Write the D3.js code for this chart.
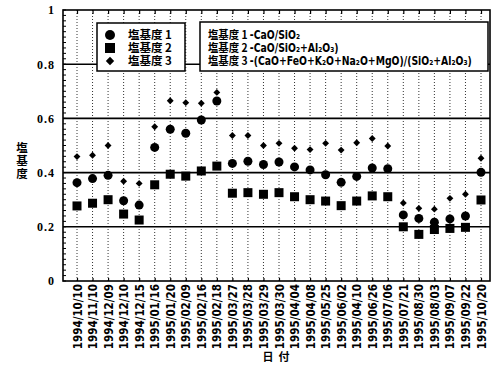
<!DOCTYPE html>
<html><head><meta charset="utf-8">
<script src="https://cdn.jsdelivr.net/npm/d3@7"></script>
<style>
html,body{margin:0;padding:0;background:#fff;}
svg{display:block;}
</style></head>
<body>
<svg id="chart" width="497" height="365"></svg>
<script>
const dates = ["1994/10/10","1994/11/10","1994/12/09","1994/12/10","1994/12/15","1995/01/16","1995/01/20","1995/02/09","1995/02/16","1995/02/18","1995/03/27","1995/03/28","1995/03/29","1995/03/30","1995/04/04","1995/04/08","1995/05/25","1995/06/02","1995/04/10","1995/06/26","1995/07/06","1995/07/21","1995/08/30","1995/08/03","1995/09/07","1995/09/22","1995/10/20"];
const basicity1 = [0.363,0.378,0.39,0.296,0.28,0.493,0.56,0.545,0.594,0.664,0.434,0.442,0.43,0.439,0.421,0.41,0.392,0.364,0.386,0.417,0.414,0.244,0.231,0.217,0.229,0.24,0.401];
const basicity2 = [0.277,0.287,0.30,0.247,0.225,0.355,0.394,0.387,0.406,0.424,0.324,0.326,0.32,0.326,0.311,0.30,0.295,0.278,0.295,0.314,0.311,0.20,0.172,0.19,0.194,0.198,0.299];
const basicity3 = [0.459,0.464,0.50,0.368,0.36,0.569,0.665,0.658,0.656,0.696,0.537,0.537,0.50,0.508,0.49,0.485,0.508,0.483,0.51,0.526,0.498,0.288,0.268,0.265,0.305,0.32,0.453];
const yTicks = [0,0.2,0.4,0.6,0.8,1];
const yTickLabels = ["0","0.2","0.4","0.6","0.8","1"];
const seriesNames = ["塩基度 1","塩基度 2","塩基度 3"];
const formulaNames = ["塩基度 1 ","塩基度 2 ","塩基度 3 "];
const formulas = ["-CaO/SiO₂","-CaO/SiO₂+Al₂O₃)","-(CaO+FeO+K₂O+Na₂O+MgO)/(SiO₂+Al₂O₃)"];
const yTitle = "塩基度";
const xTitle = "日 付";

const svg = d3.select("#chart");
const L = 63, R = 490, T = 10, B = 281;
const x = d3.scalePoint().domain(dates).range([77, 481]);
const y = d3.scaleLinear().domain([0,1]).range([B, T]);
const numFont = "'Liberation Serif','DejaVu Serif',serif";
const dateFont = "'Liberation Sans Narrow','DejaVu Sans Condensed','Liberation Sans',sans-serif";
const jpFont = "'Noto Sans CJK JP',sans-serif";
const formulaFont = "'Liberation Sans Narrow','DejaVu Sans Condensed','Liberation Sans',sans-serif";

// vertical dotted grid
svg.append("g").selectAll("line").data(dates).join("line")
  .attr("x1", d=>x(d)).attr("x2", d=>x(d)).attr("y1", T).attr("y2", B)
  .attr("stroke", "#333").attr("stroke-width", 1).attr("stroke-dasharray", "1,2");

// horizontal grid
svg.append("g").selectAll("line").data(yTicks.filter(v=>v>0&&v<1)).join("line")
  .attr("x1", L).attr("x2", R).attr("y1", d=>y(d)).attr("y2", d=>y(d))
  .attr("stroke", "#000").attr("stroke-width", 1.6);

// frame
svg.append("rect").attr("x", L).attr("y", T).attr("width", R-L).attr("height", B-T)
  .attr("fill", "none").attr("stroke", "#000").attr("stroke-width", 1.6);

// left axis with minor ticks
const yAxis = d3.axisLeft(y).tickValues(yTicks).tickFormat((d,i)=>yTickLabels[i]).tickSize(0).tickPadding(8);
const gy = svg.append("g").attr("transform", `translate(${L},0)`).call(yAxis);
gy.select(".domain").remove();
gy.selectAll("text").attr("font-family", numFont).attr("font-weight", "bold").attr("font-size", 12).attr("letter-spacing", 1);
const minor = d3.range(0, 1.0001, 0.02);
svg.append("g").selectAll("line").data(minor).join("line")
  .attr("x1", L).attr("x2", L+3).attr("y1", d=>y(d)).attr("y2", d=>y(d))
  .attr("stroke", "#000").attr("stroke-width", 1);

// top axis ticks
const gt = svg.append("g").attr("transform", `translate(0,${T})`).call(d3.axisBottom(x).tickSize(4).tickFormat(""));
gt.select(".domain").remove();
gt.selectAll("line").attr("stroke-width", 1.2);

// bottom axis labels
const gx = svg.append("g").attr("transform", `translate(0,${B})`).call(d3.axisBottom(x).tickSize(3));
gx.select(".domain").remove();
gx.selectAll("line").attr("y2", -3).attr("stroke-width", 1.2);
gx.selectAll("text")
  .attr("font-family", dateFont).attr("font-weight", "bold").attr("font-size", 11.5)
  .attr("transform", "rotate(-90)").attr("text-anchor", "end")
  .attr("x", -3).attr("y", 0).attr("dy", "0.35em");

// markers
const gm = svg.append("g");
gm.selectAll("circle.s1").data(basicity1).join("circle").attr("class","s1")
  .attr("cx", (d,i)=>x(dates[i])).attr("cy", d=>y(d)).attr("r", 4.5).attr("fill", "#000");
gm.selectAll("rect.s2").data(basicity2).join("rect").attr("class","s2")
  .attr("x", (d,i)=>x(dates[i])-4.5).attr("y", d=>y(d)-4.5).attr("width", 9).attr("height", 9).attr("fill", "#000");
const diamond = d3.symbol().type(d3.symbolDiamond2).size(30);
gm.selectAll("path.s3").data(basicity3).join("path").attr("class","s3")
  .attr("transform", (d,i)=>`translate(${x(dates[i])},${y(d)})`).attr("d", diamond).attr("fill", "#000");

// legend 1
const rowsY = [35, 48, 61];
const lg1 = svg.append("g");
lg1.append("rect").attr("x", 97).attr("y", 23).attr("width", 88).attr("height", 48)
  .attr("fill", "#fff").attr("stroke", "#000").attr("stroke-width", 1.5);
lg1.append("circle").attr("cx", 110).attr("cy", rowsY[0]).attr("r", 5).attr("fill", "#000");
lg1.append("rect").attr("x", 105).attr("y", rowsY[1]-5).attr("width", 10).attr("height", 10).attr("fill", "#000");
lg1.append("path").attr("transform", `translate(110,${rowsY[2]})`).attr("d", d3.symbol().type(d3.symbolDiamond2).size(45)()).attr("fill", "#000");
lg1.append("text").attr("font-family", jpFont).attr("font-weight", "bold").attr("font-size", 11.5)
  .selectAll("tspan").data(seriesNames).join("tspan")
  .attr("x", 128).attr("y", (d,i)=>rowsY[i]+4).text(d=>d);

// legend 2
const lg2 = svg.append("g");
lg2.append("rect").attr("x", 200).attr("y", 22).attr("width", 288).attr("height", 49)
  .attr("fill", "#fff").attr("stroke", "#000").attr("stroke-width", 1.5);
const ft = lg2.append("text").attr("transform", "translate(208,0) scale(0.9,1)")
  .attr("font-weight", "bold").attr("font-size", 11.5);
formulas.forEach((f,i)=>{
  ft.append("tspan").attr("x", 0).attr("y", rowsY[i]+4).attr("font-family", jpFont).text(formulaNames[i]);
  ft.append("tspan").attr("font-family", formulaFont).text(f);
});

// y title: stacked characters
svg.append("text").attr("font-family", jpFont).attr("font-weight", "bold").attr("font-size", 11.5)
  .attr("text-anchor", "middle")
  .selectAll("tspan").data(yTitle.split("")).join("tspan")
  .attr("x", 22).attr("y", (d,i)=>152 + i*13).text(d=>d);

// x title
svg.append("text").attr("x", 276).attr("y", 361).attr("text-anchor", "middle")
  .attr("font-family", jpFont).attr("font-weight", "bold").attr("font-size", 11)
  .attr("xml:space", "preserve").text(xTitle.replace(" ", "  "));
</script>
</body></html>
